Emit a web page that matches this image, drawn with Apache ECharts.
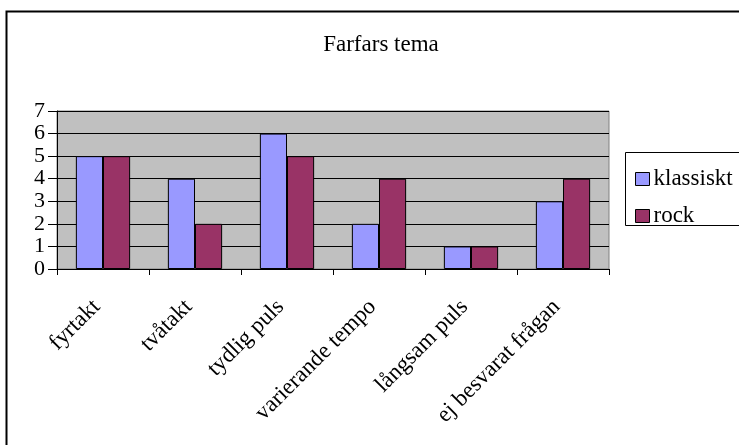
<!DOCTYPE html>
<html>
<head>
<meta charset="utf-8">
<script src="https://cdn.jsdelivr.net/npm/echarts@6/dist/echarts.min.js"></script>
<style>
html,body{margin:0;padding:0;background:#fff;}
#c{width:739px;height:445px;}
</style>
</head>
<body>
<div id="c"></div>
<script>
const categories = ['fyrtakt', 'tvåtakt', 'tydlig puls', 'varierande tempo', 'långsam puls', 'ej besvarat frågan'];
const klassiskt = [5, 4, 6, 2, 1, 3];
const rock = [5, 2, 5, 4, 1, 4];
const seriesNames = ['klassiskt', 'rock'];
const yTicks = { min: 0, max: 7, interval: 1 };

const font = 'Liberation Serif, Times New Roman, serif';
const chart = echarts.init(document.getElementById('c'), null, { renderer: 'canvas' });
chart.setOption({
  backgroundColor: '#fff',
  animation: false,
  title: {
    text: 'Farfars tema',
    left: 376, top: 28, textAlign: 'center',
    textStyle: { fontFamily: font, fontWeight: 'normal', fontSize: 23, color: '#000' }
  },
  graphic: [
    { type: 'rect', shape: { x: 6.5, y: 11.5, width: 760, height: 460 }, style: { fill: 'none', stroke: '#000', lineWidth: 2 }, z: 100 },
    { type: 'rect', shape: { x: 625.5, y: 152.5, width: 140, height: 73 }, style: { fill: '#fff', stroke: '#000', lineWidth: 1 }, z: 1 }
  ],
  legend: {
    orient: 'vertical',
    left: 630, top: 162,
    itemWidth: 14, itemHeight: 13, itemGap: 13,
    icon: 'rect',
    itemStyle: { borderColor: '#000', borderWidth: 1 },
    textStyle: { fontFamily: font, fontSize: 23, color: '#000', lineHeight: 24, padding: [0, 0, 0, -1] },
    data: seriesNames,
    z: 10
  },
  grid: {
    left: 57, top: 111, width: 552, height: 158,
    show: true, backgroundColor: '#C0C0C0', borderColor: '#808080', borderWidth: 1
  },
  xAxis: {
    type: 'category',
    data: categories,
    axisLine: { lineStyle: { color: '#000', width: 1 } },
    axisTick: { show: true, length: 6, alignWithLabel: false, lineStyle: { color: '#000' } },
    axisLabel: { rotate: 45, interval: 0, margin: 28, padding: [0, 9, 0, 0], fontFamily: font, fontSize: 23, color: '#000' },
    splitLine: { show: false }
  },
  yAxis: {
    type: 'value',
    min: yTicks.min, max: yTicks.max, interval: yTicks.interval,
    axisLine: { show: true, lineStyle: { color: '#000', width: 1 } },
    axisTick: { show: true, length: 9, lineStyle: { color: '#000' } },
    axisLabel: { margin: 12, fontFamily: font, fontSize: 22, color: '#000' },
    splitLine: { show: true, lineStyle: { color: '#000', width: 1 } }
  },
  series: [
    { name: seriesNames[0], type: 'bar', data: klassiskt, barGap: '0%', barCategoryGap: '41%',
      itemStyle: { color: '#9999FF', borderColor: '#000', borderWidth: 1 } },
    { name: seriesNames[1], type: 'bar', data: rock, barGap: '0%', barCategoryGap: '41%',
      itemStyle: { color: '#993366', borderColor: '#000', borderWidth: 1 } }
  ]
});
</script>
</body>
</html>
